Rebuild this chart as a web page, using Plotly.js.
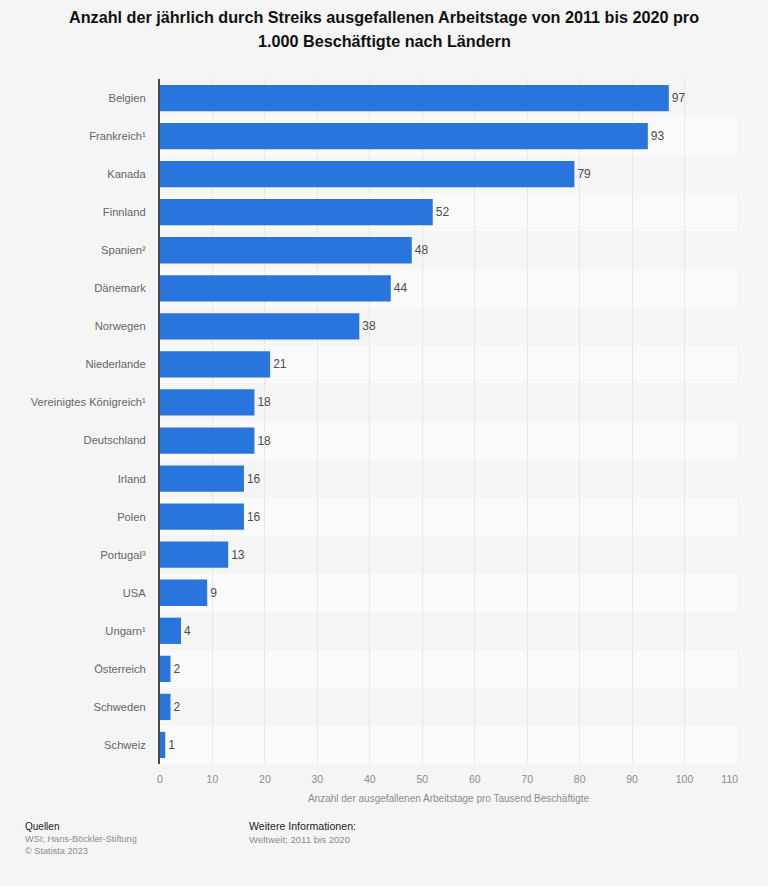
<!DOCTYPE html>
<html>
<head>
<meta charset="utf-8">
<script src="https://cdn.plot.ly/plotly-3.0.1.min.js"></script>
<style>html,body{margin:0;padding:0;background:#f5f5f5}#c{width:768px;height:886px}</style>
</head>
<body>
<div id="c"></div>
<script>
const countries = ["Belgien","Frankreich¹","Kanada","Finnland","Spanien²","Dänemark","Norwegen","Niederlande","Vereinigtes Königreich¹","Deutschland","Irland","Polen","Portugal³","USA","Ungarn¹","Österreich","Schweden","Schweiz"];
const values = [97,93,79,52,48,44,38,21,18,18,16,16,13,9,4,2,2,1];
const xTicks = [0,10,20,30,40,50,60,70,80,90,100,110];
const titleLine1 = "<b>Anzahl der jährlich durch Streiks ausgefallenen Arbeitstage von 2011 bis 2020 pro</b>";
const titleLine2 = "<b>1.000 Beschäftigte nach Ländern</b>";
const xAxisTitle = "Anzahl der ausgefallenen Arbeitstage pro Tausend Beschäftigte";

const FONT = "Liberation Sans, Arial, sans-serif";
const bands = countries.map((c, i) => ({
  type: "rect", layer: "below", xref: "x", yref: "y",
  x0: 0, x1: 110, y0: i - 0.5, y1: i + 0.5,
  fillcolor: i % 2 ? "#fafafa" : "#f5f5f5", line: {width: 0}
}));
const L = 160, R = 31, T = 79, B = 122, W = 768, H = 886;
const px = v => (v - L) / (W - L - R), py = v => (H - B - v) / (H - T - B);
const note = (x, y, text, color, size) => ({
  xref: "paper", yref: "paper", x: px(x), y: py(y), xanchor: "left", yanchor: "middle",
  showarrow: false, text: text, font: {family: FONT, size: size, color: color}
});
const title2 = Object.assign(note(384, 41, titleLine2, "#111", 16.2), {xanchor: "center"});

Plotly.newPlot("c", [{
  type: "bar", orientation: "h", x: values, y: countries.map((c, i) => i),
  width: 0.69,
  marker: {color: "#2875dd", line: {width: 0}},
  text: values.map(String), textposition: "outside", cliponaxis: false,
  textfont: {family: FONT, size: 12, color: "#4d4d4d"},
  hoverinfo: "x+text"
}], {
  width: W, height: H,
  paper_bgcolor: "#f5f5f5", plot_bgcolor: "#f5f5f5",
  margin: {l: L, r: R, t: T, b: B, pad: 0},
  showlegend: false,
  title: {text: titleLine1, x: 0.5, xanchor: "center", y: 0.981, yanchor: "middle",
    font: {family: FONT, size: 16.2, color: "#111"}},
  xaxis: {
    range: [0, 110], tickvals: xTicks,
    ticktext: xTicks.map(v => v === 110 ? v + "\u00a0\u00a0\u00a0\u00a0\u00a0" : String(v)),
    showgrid: true, gridcolor: "#d8d8d8", griddash: "1px,1px", gridwidth: 1,
    zeroline: false, showline: false,
    ticks: "outside", ticklen: 5, tickcolor: "rgba(0,0,0,0)",
    tickfont: {family: FONT, size: 10.5, color: "#8c8c8c"},
    title: {text: xAxisTitle, standoff: 11, font: {family: FONT, size: 10, color: "#8c8c8c"}}
  },
  yaxis: {
    range: [17.5, -0.5], tickvals: countries.map((c, i) => i), ticktext: countries,
    showgrid: false, zeroline: false, showline: true, linecolor: "#4a4a4a", linewidth: 2,
    ticks: "outside", ticklen: 10, tickcolor: "rgba(0,0,0,0)",
    tickfont: {family: FONT, size: 11.2, color: "#666"}
  },
  shapes: bands,
  annotations: [
    title2,
    note(23, 826, "Quellen", "#222", 10),
    note(23, 839, "WSI; Hans-Böckler-Stiftung", "#8c8c8c", 9.2),
    note(23, 851, "© Statista 2023", "#8c8c8c", 9.2),
    note(246.5, 826, "Weitere Informationen:", "#222", 10.6),
    note(246.5, 839, "Weltweit; 2011 bis 2020", "#8c8c8c", 9.6)
  ]
}, {displayModeBar: false, responsive: false});
</script>
</body>
</html>
